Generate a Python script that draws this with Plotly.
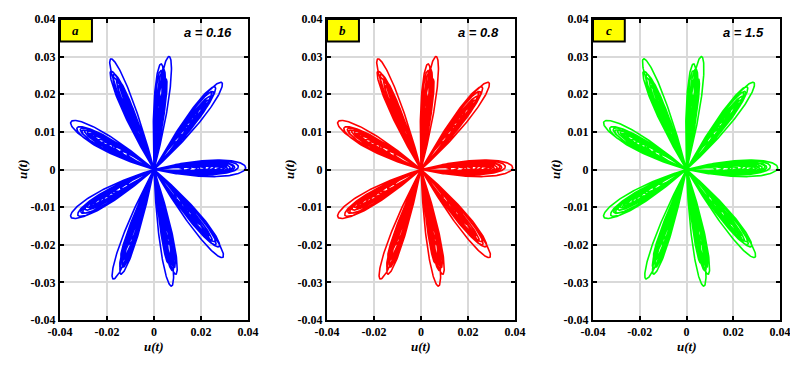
import numpy as np
import plotly.graph_objects as go

# petal: direction of the tip (deg) and tip distance from origin
petal_angle = [0.7, 38.4, 77.8, 122.3, 160.6, 199.4, 238.9, 283.6, 321.8]
petal_len = [0.039, 0.037, 0.0307, 0.0347, 0.0376, 0.0376, 0.0339, 0.0319, 0.0375]
# some lobes split into a second, slightly rotated sub-lobe (deg)
petal_split = [0.5, 1.5, 6.0, 3.0, 1.0, 1.0, 4.0, 5.0, 2.0]

# nested loops inside every petal: far end (fraction of tip length), width, twist share
loop_frac = [1.0, 0.92, 0.88, 0.86, 0.83, 0.80, 0.78, 0.76, 0.72, 0.66, 0.61, 0.56, 0.50, 0.47, 0.40, 0.32]
loop_width = [0.0044, 0.0038, 0.0034, 0.0030, 0.0026, 0.0022, 0.0019, 0.0017, 0.0013, 0.0018,
              0.0016, 0.0012, 0.0015, 0.0013, 0.0010, 0.0009]
loop_twist = [0, 1, 0.6, 1, 0.4, 0, 0.8, 0, 0.3, 1, 1, 0.6, 0.2, 0, 0.5, 0]

panel_labels = ["a", "b", "c"]
panel_params = ["a = 0.16", "a = 0.8", "a = 1.5"]
panel_colors = ["#0000FF", "#FF0000", "#00FF00"]

x_ticks = [-0.04, -0.02, 0, 0.02, 0.04]
y_ticks = [-0.04, -0.03, -0.02, -0.01, 0, 0.01, 0.02, 0.03, 0.04]


def tick_text(vals):
    return ["<b>%s</b>" % ("0" if v == 0 else ("%g" % v)) for v in vals]


# build the phase portrait: each loop leaves the origin and comes back to it
t = np.linspace(0, 2 * np.pi, 160)
u = (1 - np.cos(t)) / 2
bulge = np.sin(t) * np.sqrt(u) / 0.7698
xs, ys = [], []
for k in range(len(loop_frac)):
    for i in range(len(petal_angle)):
        ang = np.radians(petal_angle[i] + loop_twist[k] * petal_split[i])
        s = petal_len[i] * loop_frac[k] * u
        p = loop_width[k] / 2 * bulge
        xs.append(s * np.cos(ang) - p * np.sin(ang))
        ys.append(s * np.sin(ang) + p * np.cos(ang))
x_all = np.concatenate(xs)
y_all = np.concatenate(ys)

# the page has an 8px body margin, so the figure is 16px smaller than the window
W, H, OFF = 782, 352, 8


def px(x):
    return (x - OFF) / W


def py(y):
    return 1 - (y - OFF) / H


fig = go.Figure()

x_domains = [[px(60), px(248)], [px(327), px(515)], [px(593), px(780)]]
y_domain = [py(320), py(19)]

serif = "Liberation Serif, Times New Roman, serif"

for j in range(3):
    xa = "x" if j == 0 else "x%d" % (j + 1)
    ya = "y" if j == 0 else "y%d" % (j + 1)
    fig.add_trace(go.Scatter(x=x_all, y=y_all, mode="lines", xaxis=xa, yaxis=ya,
                             line=dict(color=panel_colors[j], width=1.6),
                             hoverinfo="skip", showlegend=False))

    axis_common = dict(showline=True, linecolor="black", linewidth=2, mirror="allticks",
                       ticks="inside", ticklen=4, tickwidth=2, tickcolor="black",
                       showgrid=True, gridcolor="#d9d9d9", gridwidth=1.5, zeroline=False,
                       automargin=False, ticklabeloverflow="allow",
                       tickfont=dict(family=serif, size=12, color="black"))
    fig.layout["xaxis" if j == 0 else "xaxis%d" % (j + 1)] = dict(
        axis_common, domain=x_domains[j], range=[-0.04, 0.04], anchor=ya,
        tickvals=x_ticks, ticktext=tick_text(x_ticks))
    fig.layout["yaxis" if j == 0 else "yaxis%d" % (j + 1)] = dict(
        axis_common, domain=y_domain, range=[-0.04, 0.04], anchor=xa,
        tickvals=y_ticks, ticktext=tick_text(y_ticks))

    xref_d = xa + " domain"
    yref_d = ya + " domain"
    # yellow tag box
    fig.add_shape(type="rect", xref=xref_d, yref=yref_d, x0=0, x1=0.17, y0=0.925, y1=1.0,
                  fillcolor="#FFFF00", line=dict(color="black", width=2), layer="above")
    fig.add_annotation(xref=xref_d, yref=yref_d, x=0.085, y=0.9625, xanchor="center", yanchor="middle",
                       text="<b><i>%s</i></b>" % panel_labels[j],
                       showarrow=False, font=dict(family=serif, size=13, color="black"))
    # parameter text
    fig.add_annotation(xref=xref_d, yref=yref_d, x=0.925, y=0.955, xanchor="right", yanchor="middle",
                       text="<b><i>%s</i></b>" % panel_params[j], showarrow=False,
                       font=dict(family="Liberation Sans, Arial, sans-serif", size=13, color="black"))
    # axis titles
    mid = (x_domains[j][0] + x_domains[j][1]) / 2
    fig.add_annotation(xref="paper", yref="paper", x=mid, y=py(346), xanchor="center", yanchor="middle",
                       text="<b><i>u(t)</i></b>",
                       showarrow=False, font=dict(family=serif, size=13, color="black"))
    fig.add_annotation(xref="paper", yref="paper", x=x_domains[j][0] - 38 / W, y=py(169),
                       xanchor="center", yanchor="middle",
                       text="<b><i>u(t)</i></b>", textangle=-90, showarrow=False,
                       font=dict(family=serif, size=13, color="black"))

fig.update_layout(width=W, height=H, margin=dict(l=0, r=0, t=0, b=0),
                  plot_bgcolor="white", paper_bgcolor="white")

fig.write_html("out.html")
